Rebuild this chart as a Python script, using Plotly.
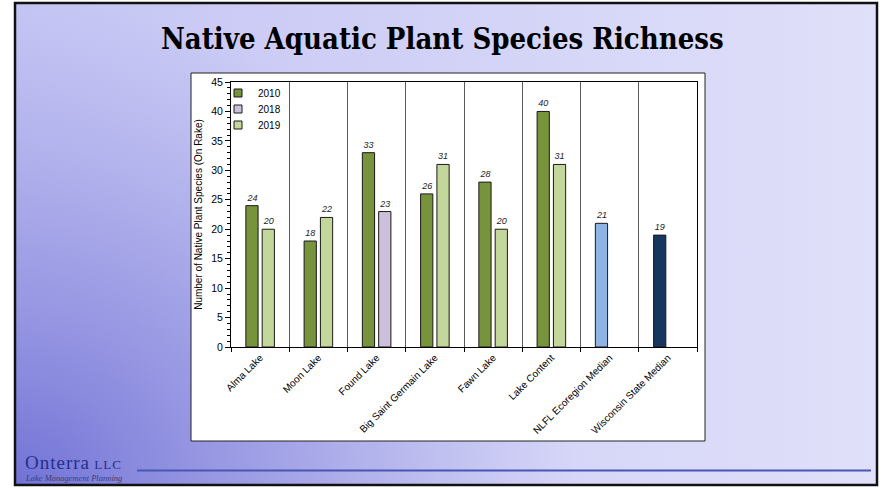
import base64
import plotly.graph_objects as go

# ---------------- data ----------------
categories = ["Alma Lake", "Moon Lake", "Found Lake", "Big Saint Germain Lake",
              "Fawn Lake", "Lake Content", "NLFL Ecoregion Median", "Wisconsin State Median"]
v2010 = [24, 18, 33, 26, 28, 40, None, None]
v2018 = [None, None, 23, None, None, None, None, None]
v2019 = [20, 22, None, 31, 20, 31, None, None]
v_nlfl = [None, None, None, None, None, None, 21, None]
v_wi = [None, None, None, None, None, None, None, 19]
legend_names = ["2010", "2018", "2019"]
y_ticks = [0, 5, 10, 15, 20, 25, 30, 35, 40, 45]

# ---------------- geometry helpers ----------------
W, H = 882, 488
PL, PR, PT, PB = 231, 697, 82, 347


def px(x):
    return (x - PL) / (PR - PL)


def py(y):
    return (PB - y) / (PB - PT)


C2010 = "#77933c"
C2018 = "#ccc0da"
C2019 = "#c4d79b"
CNLFL = "#8db4e2"
CWI = "#17375e"
EDGE = "#1a1a1a"
FONT = "Arial, Liberation Sans, sans-serif"

fig = go.Figure()

BW = 0.21
LEFT_OFF = -0.245
RIGHT_OFF = 0.035


def add_bar(vals, color, off):
    fig.add_trace(go.Bar(
        x=categories, y=vals, offset=off, width=BW,
        marker=dict(color=color, line=dict(color=EDGE, width=1)),
        text=[("" if v is None else str(v)) for v in vals],
        textposition="outside",
        textfont=dict(family=FONT, size=9, color="#222222", style="italic"),
        cliponaxis=False, showlegend=False, hoverinfo="skip",
    ))


add_bar(v2010, C2010, LEFT_OFF)
add_bar(v2018, C2018, RIGHT_OFF)
add_bar(v2019, C2019, RIGHT_OFF)
add_bar(v_nlfl, CNLFL, LEFT_OFF)
add_bar(v_wi, CWI, LEFT_OFF)

# legend entries (three separately positioned legends)
legend_keys = ["legend", "legend2", "legend3"]
for name, col, lk in zip(legend_names, [C2010, C2018, C2019], legend_keys):
    fig.add_trace(go.Scatter(
        x=[None], y=[None], mode="markers", name=name,
        marker=dict(symbol="square", size=8, color=col, line=dict(color=EDGE, width=1)),
        legend=lk, showlegend=True,
    ))

legend_rows = [93, 109, 125]
legend_common = dict(
    font=dict(family=FONT, size=10, color="#000000"),
    bgcolor="rgba(0,0,0,0)", borderwidth=0, itemwidth=30,
    xanchor="left", yanchor="middle", x=px(218),
)

# background gradient as an SVG image
svg = (
    f"<svg xmlns='http://www.w3.org/2000/svg' width='{W}' height='{H}' viewBox='0 0 {W} {H}' "
    "preserveAspectRatio='none'><defs>"
    "<linearGradient id='b' x1='0' y1='0' x2='1' y2='0'>"
    "<stop offset='0' stop-color='#c4c4f4'/><stop offset='1' stop-color='#e0e0fa'/></linearGradient>"
    "<radialGradient id='r' gradientUnits='userSpaceOnUse' cx='0' cy='0' r='1' "
    "gradientTransform='translate(15 485) scale(560 480)'>"
    "<stop offset='0' stop-color='#7272d6' stop-opacity='1'/>"
    "<stop offset='0.5' stop-color='#8a8ade' stop-opacity='0.6'/>"
    "<stop offset='1' stop-color='#9a9ae4' stop-opacity='0'/></radialGradient></defs>"
    f"<rect width='{W}' height='{H}' fill='white'/>"
    "<rect x='15' y='3' width='862' height='482' fill='url(#b)'/>"
    "<rect x='15' y='3' width='862' height='482' fill='url(#r)'/>"
    "</svg>"
)
src = "data:image/svg+xml;base64," + base64.b64encode(svg.encode()).decode()

shapes = [
    # slide frame
    dict(type="rect", xref="paper", yref="paper", x0=px(15), x1=px(877), y0=py(485), y1=py(3),
         line=dict(color="#111111", width=2.5), fillcolor="rgba(0,0,0,0)", layer="below"),
    # chart box
    dict(type="rect", xref="paper", yref="paper", x0=px(191), x1=px(705), y0=py(441), y1=py(73),
         line=dict(color="#222222", width=1), fillcolor="white", layer="below"),
    # footer line
    dict(type="line", xref="paper", yref="paper", x0=px(137), x1=px(871), y0=py(470.5), y1=py(470.5),
         line=dict(color="#4a56b4", width=2), layer="below"),
]

annotations = [
    dict(text="<b>Native Aquatic Plant Species Richness</b>", xref="paper", yref="paper",
         x=px(442), y=py(39), xanchor="center", yanchor="middle", showarrow=False,
         font=dict(family="DejaVu Serif Condensed, DejaVu Serif, serif", size=29, color="#000000")),
    dict(text="<span style='letter-spacing:1px'>Onterra</span>"
              "<span style='font-size:13px;letter-spacing:1px'> LLC</span>",
         xref="paper", yref="paper",
         x=px(23), y=py(462), xanchor="left", yanchor="middle", showarrow=False,
         font=dict(family="Liberation Serif, serif", size=19, color="#23308c")),
    dict(text="<i>Lake Management Planning</i>", xref="paper", yref="paper",
         x=px(23), y=py(478), xanchor="left", yanchor="middle", showarrow=False,
         font=dict(family="Liberation Serif, serif", size=8.5, color="#3a3f70")),
]

layout_kwargs = dict(
    width=W, height=H,
    margin=dict(l=PL, r=W - PR, t=PT, b=H - PB, pad=0),
    paper_bgcolor="white", plot_bgcolor="white",
    barmode="overlay",
    images=[dict(source=src, xref="paper", yref="paper", x=px(0), y=py(0),
                 sizex=W / (PR - PL), sizey=H / (PB - PT), sizing="stretch",
                 xanchor="left", yanchor="top", layer="below")],
    shapes=shapes, annotations=annotations,
    xaxis=dict(
        type="category", tickson="boundaries", ticks="outside", ticklen=4, tickcolor="#000000",
        showgrid=True, gridcolor="#5a5a5a", gridwidth=1,
        showline=True, linecolor="#000000", linewidth=1, mirror=True,
        tickangle=-45, tickfont=dict(family=FONT, size=10, color="#000000"),
        range=[-0.5, len(categories) - 0.5], fixedrange=True,
    ),
    yaxis=dict(
        range=[0, 45], tickvals=y_ticks, ticks="outside", ticklen=5, tickcolor="#000000",
        showgrid=False, zeroline=False,
        showline=True, linecolor="#000000", linewidth=1, mirror=True,
        minor=dict(dtick=1, ticks="outside", ticklen=3, tickcolor="#000000", showgrid=False),
        tickfont=dict(family=FONT, size=10.5, color="#000000"),
        title=dict(text="Number of Native Plant Species (On Rake)",
                   font=dict(family=FONT, size=10, color="#000000"), standoff=6),
        fixedrange=True,
    ),
    showlegend=True,
)
for lk, row in zip(legend_keys, legend_rows):
    layout_kwargs[lk] = dict(legend_common, y=py(row))

fig.update_layout(**layout_kwargs)

fig.write_html("out.html", config={"displayModeBar": False},
               post_script="document.body.style.margin='0';document.body.style.overflow='hidden';")
